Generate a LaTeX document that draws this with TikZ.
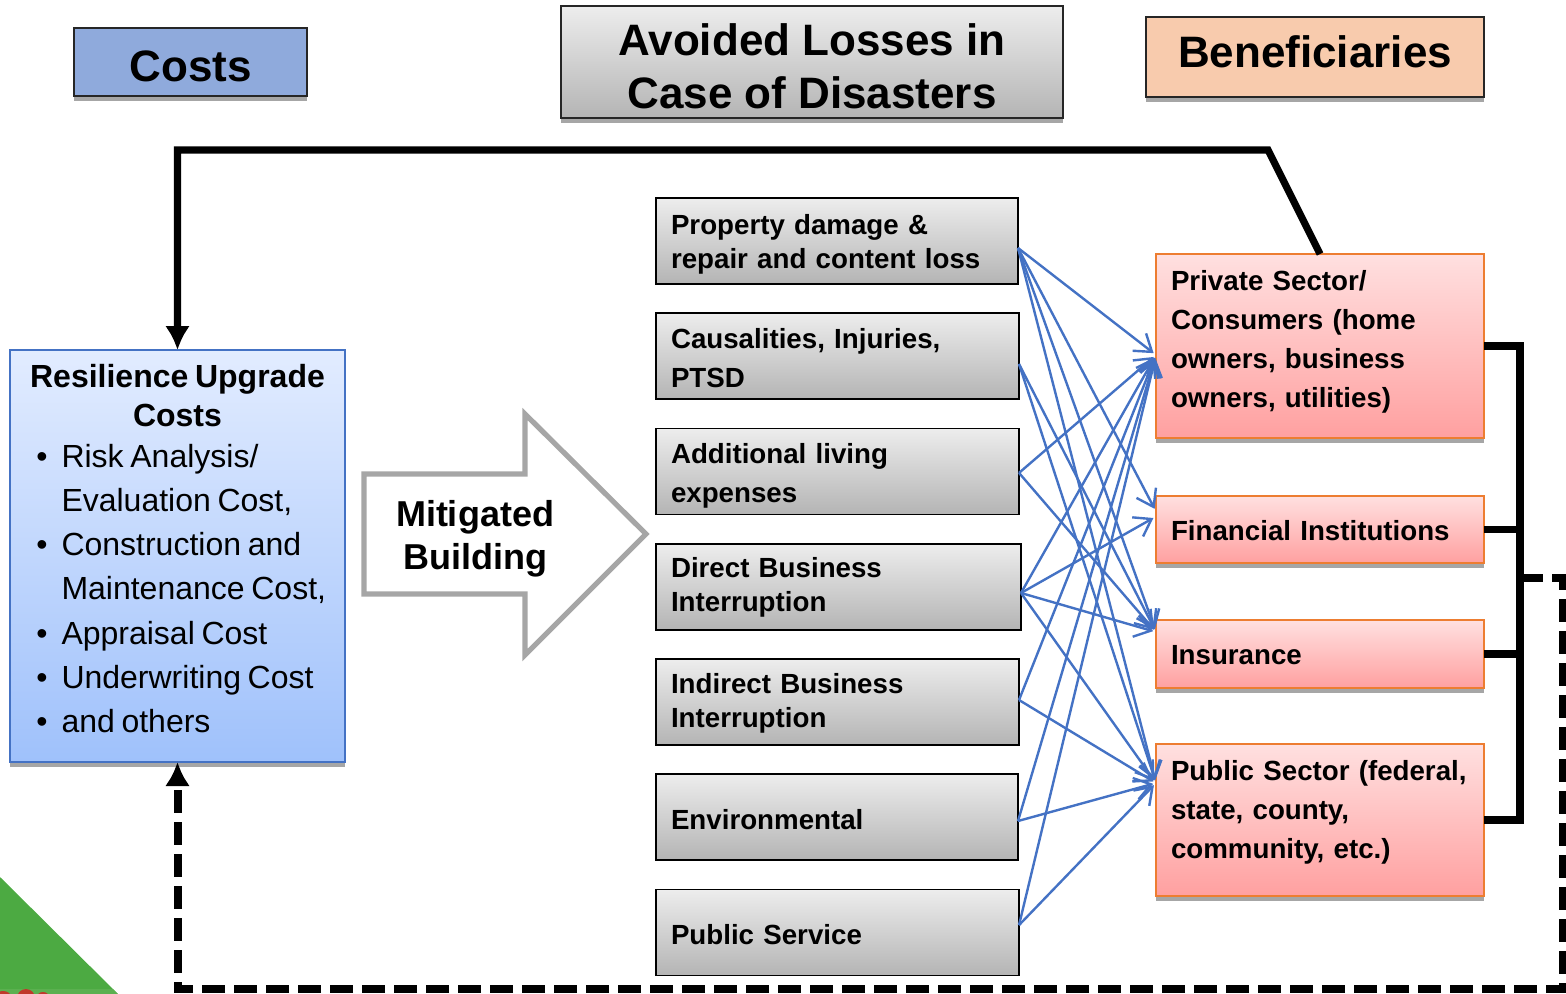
\documentclass[tikz,border=0pt]{standalone}
\usepackage{fontspec}
\setmainfont{Liberation Sans}
\usetikzlibrary{shadows,arrows.meta}
\definecolor{costblue}{HTML}{8FAADC}
\definecolor{benefit}{HTML}{F8CBAD}
\definecolor{rowtop}{HTML}{EDEDED}
\definecolor{rowbot}{HTML}{B4B4B4}
\definecolor{pinktop}{HTML}{FFE0E0}
\definecolor{pinkbot}{HTML}{FFA0A0}
\definecolor{bluetop}{HTML}{E2ECFF}
\definecolor{bluebot}{HTML}{9FC1FB}
\definecolor{linkblue}{HTML}{4472C4}
\definecolor{edgeorange}{HTML}{ED7D31}
\definecolor{arrowgray}{HTML}{A6A6A6}
\definecolor{cornergreen}{HTML}{4CAA42}
\definecolor{cornerband}{HTML}{5BB050}
\definecolor{cornerred}{HTML}{C0392B}
\tikzset{
    softshadow/.style={drop shadow={shadow xshift=0pt, shadow yshift=-2.6pt, fill=arrowgray, opacity=1}},
    header/.style={draw=black!85, line width=0.9pt, outer sep=0pt, softshadow, align=center,
        font=\fontsize{22}{26.5}\bfseries\selectfont},
    rowbox/.style={draw=black, line width=0.9pt, outer sep=0pt, top color=rowtop, bottom color=rowbot,
        anchor=west, minimum height=43pt, text width=#1pt, inner xsep=7.5pt, inner ysep=0pt, align=left,
        font=\fontsize{13.85}{17}\bfseries\selectfont},
    widerow/.style={font=\fontsize{13.85}{19.5}\bfseries\selectfont},
    sidebox/.style={draw=edgeorange, line width=1.3pt, outer sep=0pt, top color=pinktop, bottom color=pinkbot, softshadow,
        anchor=west, text width=149pt, inner xsep=7.5pt, inner ysep=0pt, align=left,
        font=\fontsize{13.85}{19.5}\bfseries\selectfont},
    link/.style={draw=linkblue, line width=1.2pt, shorten >=1.5pt, -{Straight Barb[length=8pt,width=11pt]}},
    heavy/.style={line width=3.6pt},
    heavydash/.style={line width=4pt, dash pattern=on 11.5pt off 4.5pt},
}
\newcommand{\TopGap}[1]{\rule{0pt}{#1}}
\newcommand{\LowGap}[1]{\rule[-#1]{0pt}{#1}}
\newcommand{\ListItems}[1]{\begin{list}{\textbullet}{\setlength{\leftmargin}{22.5pt}\setlength{\labelwidth}{11pt}%
    \setlength{\labelsep}{7pt}\setlength{\itemsep}{0pt}\setlength{\parsep}{0pt}\setlength{\topsep}{0pt}%
    \setlength{\partopsep}{0pt}}#1\end{list}}
\begin{document}
\begin{tikzpicture}[x=0.5pt, y=-0.5pt]
    \useasboundingbox (0,0) rectangle (1566,994);

    % headings
    \draw(190.5,62) node (costs) [header, fill=costblue, minimum width=116.5pt, minimum height=34pt, text height=20pt, text depth=0pt] {Costs};
    \draw(812,62) node (losses) [header, top color=rowtop, bottom color=rowbot, minimum width=251pt, minimum height=56pt] {\TopGap{20pt}Avoided Losses in\\Case of Disasters};
    \draw(1315,57) node (benef) [header, fill=benefit, minimum width=169pt, minimum height=40pt, text height=16pt, text depth=5pt] {Beneficiaries};

    % corner
    \fill[cornergreen] (0,877) -- (118,994) -- (0,994) -- cycle;
    \fill[cornerband] (0,989) -- (113,989) -- (118,994) -- (0,994) -- cycle;
    \fill[cornerred] (3,997) ellipse (8 and 6);
    \fill[cornerred] (26,998) ellipse (9 and 9);
    \fill[cornerred] (43,997) ellipse (6 and 5);

    % left column
    \draw(177.5,556) node (resil) [draw=linkblue, line width=1.2pt, outer sep=0pt, top color=bluetop, bottom color=bluebot, softshadow,
        minimum width=167.5pt, minimum height=206pt, text width=161pt, inner xsep=2pt, inner ysep=0pt, align=left] {%
        \parbox{161pt}{\centering\fontsize{16}{19.5}\bfseries\selectfont Resilience Upgrade\\Costs\par}\par
        \vspace{7.5pt}
        \fontsize{16}{22.1}\selectfont
        \ListItems{\item Risk Analysis/\\Evaluation Cost,
        \item Construction and\\Maintenance Cost,
        \item Appraisal Cost
        \item Underwriting Cost
        \item and others\LowGap{7.4pt}}};

    % big arrow
    \draw[line width=2.6pt, draw=arrowgray, fill=white] (364,474) -- (525,474) -- (525,414) -- (646,534) -- (525,655) -- (525,594) -- (364,594) -- cycle;
    \draw(475,539) node (mitig) [align=center, font=\fontsize{18}{21.5}\bfseries\selectfont] {Mitigated\\Building};

    % middle column
    \draw(656,241) node (prop) [rowbox=166] {\TopGap{13pt}Property damage \&\\repair and content loss};
    \draw(656,356) node (caus) [rowbox=166.5, widerow] {\TopGap{12pt}Causalities, Injuries,\\PTSD};
    \draw(656,471.5) node (addl) [rowbox=166.5, widerow] {\TopGap{14.5pt}Additional living\\expenses};
    \draw(656,587) node (dirb) [rowbox=167.5] {\TopGap{10.5pt}Direct Business\\Interruption};
    \draw(656,702) node (indb) [rowbox=166.5] {\TopGap{11pt}Indirect Business\\Interruption};
    \draw(656,817) node (envi) [rowbox=166] {\TopGap{12.5pt}Environmental};
    \draw(656,932.5) node (pubs) [rowbox=166.5] {\TopGap{12pt}Public Service};

    % right column
    \draw(1156,346) node (priv) [sidebox, minimum height=92pt] {Private Sector/\\Consumers (home\\owners, business\\owners, utilities)\LowGap{7.5pt}};
    \draw(1156,529.5) node (fina) [sidebox, minimum height=33.5pt] {\TopGap{11pt}Financial Institutions};
    \draw(1156,654) node (insu) [sidebox, minimum height=34pt] {\TopGap{11pt}Insurance};
    \draw(1156,820) node (pubm) [sidebox, minimum height=76pt] {Public Sector (federal,\\state, county,\\community, etc.)\LowGap{11pt}};

    % links
    \draw[link] ([yshift=-3.5pt]prop.east) -- ([yshift=-4.5pt]priv.west);
    \draw[link] ([yshift=-3.5pt]prop.east) -- ([yshift=9pt]fina.west);
    \draw[link] ([yshift=-3.5pt]prop.east) -- ([yshift=11pt]insu.west);
    \draw[link] ([yshift=-3.5pt]prop.east) -- ([yshift=18.5pt]pubm.west);
    \draw[link] ([yshift=-4pt]caus.east) -- ([yshift=11pt]insu.west);
    \draw[link] ([yshift=-4pt]caus.east) -- ([yshift=18.5pt]pubm.west);
    \draw[link] ([yshift=-0.7pt]addl.east) -- ([yshift=-4.5pt]priv.west);
    \draw[link] ([yshift=-0.7pt]addl.east) -- ([yshift=11pt]insu.west);
    \draw[link] ([yshift=-3pt]dirb.east) -- ([yshift=-4.5pt]priv.west);
    \draw[link] ([yshift=-3pt]dirb.east) -- ([yshift=6.5pt]fina.west);
    \draw[link] ([yshift=-3pt]dirb.east) -- ([yshift=11pt]insu.west);
    \draw[link] ([yshift=-3pt]dirb.east) -- ([yshift=18.5pt]pubm.west);
    \draw[link] ([yshift=1pt]indb.east) -- ([yshift=-4.5pt]priv.west);
    \draw[link] ([yshift=1pt]indb.east) -- ([yshift=18.5pt]pubm.west);
    \draw[link] ([yshift=-2pt]envi.east) -- ([yshift=-4.5pt]priv.west);
    \draw[link] ([yshift=-2pt]envi.east) -- ([yshift=18.5pt]pubm.west);
    \draw[link] ([yshift=3.7pt]pubs.east) -- ([yshift=-4.5pt]priv.west);
    \draw[link] ([yshift=3.7pt]pubs.east) -- ([yshift=18.5pt]pubm.west);

    % feedback lines
    \coordinate (kneetop) at (1268,150);
    \coordinate (turntop) at (177.5,150);
    \draw[heavy, -{Latex[length=12pt,width=12.5pt]}, line join=miter] (priv.north) -- (kneetop) -- (turntop) -- (resil.north);

    \coordinate (bustop) at (1520,346);
    \coordinate (busbot) at (1520,820);
    \coordinate (busmid) at (1520,578);
    \coordinate (dashtop) at (1563,578);
    \coordinate (dashbot) at (1563,989);
    \coordinate (dashleft) at (177.5,989);
    \draw[heavy] (priv.east) -- (bustop) -- (busbot) -- (pubm.east);
    \draw[heavy] (fina.east) -- (fina.east -| bustop);
    \draw[heavy] (insu.east) -- (insu.east -| bustop);
    \draw[heavydash, -{Latex[length=12pt,width=12.5pt]}] (busmid) -- (dashtop) -- (dashbot) -- (dashleft) -- (resil.south);

\end{tikzpicture}
\end{document}
